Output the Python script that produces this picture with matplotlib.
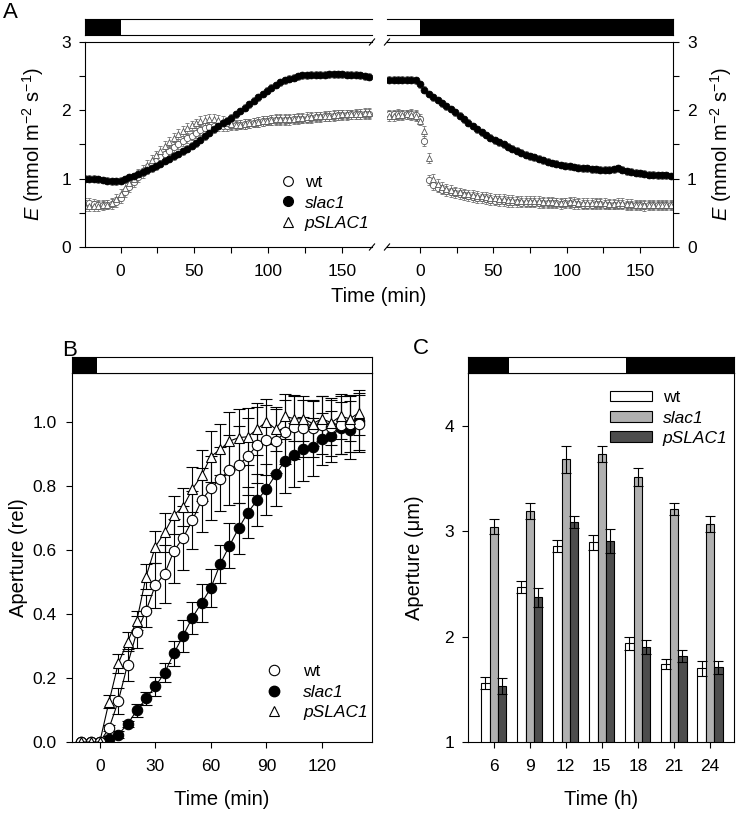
import numpy as np
import matplotlib as mlp
mlp.use('Agg')
import matplotlib.pyplot as plt
from matplotlib.lines import Line2D
from matplotlib.patches import Patch

plt.rcParams['font.family'] = ['Liberation Sans', 'DejaVu Sans']
plt.rcParams['mathtext.fontset'] = 'custom'
plt.rcParams['mathtext.rm'] = 'Liberation Sans'
plt.rcParams['mathtext.it'] = 'Liberation Sans:italic'
plt.rcParams['font.size'] = 12.5
plt.rcParams['axes.labelsize'] = 14.5
plt.rcParams['axes.linewidth'] = 0.8

# ---- panel A: transpiration, light on (left) / light off (right)
tA_on = np.arange(-24, 169, 3)
tA_off = np.arange(-21, 172, 3)

wt_on = [0.65, 0.64, 0.63, 0.62, 0.62, 0.62, 0.63, 0.66, 0.72, 0.80,
         0.88, 0.95, 1.02, 1.08, 1.14, 1.20, 1.26, 1.31, 1.36, 1.41,
         1.46, 1.51, 1.55, 1.59, 1.63, 1.67, 1.71, 1.74, 1.76, 1.77,
         1.77, 1.77, 1.77, 1.78, 1.78, 1.79, 1.80, 1.81, 1.82, 1.83,
         1.84, 1.85, 1.86, 1.86, 1.86, 1.86, 1.86, 1.87, 1.87, 1.88,
         1.88, 1.89, 1.90, 1.90, 1.91, 1.92, 1.92, 1.93, 1.93, 1.93,
         1.94, 1.94, 1.95, 1.95, 1.95]
slac1_on = [1.00, 1.00, 1.00, 0.99, 0.98, 0.97, 0.96, 0.96, 0.97, 0.99,
            1.02, 1.04, 1.07, 1.10, 1.13, 1.15, 1.18, 1.22, 1.26, 1.29,
            1.33, 1.36, 1.40, 1.44, 1.48, 1.52, 1.57, 1.62, 1.67, 1.72,
            1.77, 1.81, 1.85, 1.89, 1.94, 1.99, 2.04, 2.09, 2.14, 2.19,
            2.24, 2.29, 2.33, 2.37, 2.41, 2.44, 2.46, 2.48, 2.50, 2.51,
            2.51, 2.52, 2.52, 2.52, 2.52, 2.53, 2.53, 2.53, 2.53, 2.52,
            2.52, 2.52, 2.51, 2.50, 2.49]
pslac1_on = [0.60, 0.60, 0.60, 0.60, 0.61, 0.62, 0.65, 0.70, 0.78, 0.86,
             0.93, 1.00, 1.07, 1.13, 1.20, 1.27, 1.34, 1.41, 1.48, 1.54,
             1.60, 1.65, 1.70, 1.74, 1.78, 1.81, 1.84, 1.86, 1.87, 1.87,
             1.86, 1.84, 1.82, 1.80, 1.79, 1.79, 1.80, 1.81, 1.82, 1.83,
             1.84, 1.85, 1.86, 1.87, 1.87, 1.87, 1.88, 1.88, 1.89, 1.89,
             1.90, 1.90, 1.91, 1.91, 1.92, 1.92, 1.93, 1.93, 1.94, 1.94,
             1.94, 1.95, 1.95, 1.96, 1.96]

wt_off = [1.94, 1.94, 1.95, 1.94, 1.94, 1.95, 1.93, 1.88, 1.55, 0.98,
          0.90, 0.87, 0.84, 0.82, 0.80, 0.79, 0.77, 0.76, 0.74, 0.73,
          0.72, 0.71, 0.70, 0.69, 0.68, 0.67, 0.67, 0.66, 0.66, 0.66,
          0.65, 0.65, 0.65, 0.65, 0.64, 0.64, 0.64, 0.64, 0.64, 0.63,
          0.64, 0.64, 0.63, 0.63, 0.62, 0.62, 0.62, 0.63, 0.63, 0.62,
          0.62, 0.62, 0.62, 0.62, 0.61, 0.61, 0.61, 0.61, 0.60, 0.61,
          0.61, 0.61, 0.61, 0.61, 0.61]
slac1_off = [2.45, 2.45, 2.45, 2.45, 2.45, 2.45, 2.44, 2.38, 2.30, 2.24,
             2.19, 2.15, 2.10, 2.06, 2.02, 1.97, 1.92, 1.87, 1.82, 1.77,
             1.72, 1.68, 1.64, 1.60, 1.56, 1.53, 1.50, 1.47, 1.44, 1.41,
             1.38, 1.35, 1.33, 1.31, 1.29, 1.27, 1.25, 1.23, 1.22, 1.20,
             1.19, 1.18, 1.17, 1.16, 1.15, 1.15, 1.14, 1.14, 1.13, 1.13,
             1.13, 1.14, 1.15, 1.13, 1.11, 1.10, 1.09, 1.08, 1.07, 1.06,
             1.06, 1.05, 1.05, 1.05, 1.04]
pslac1_off = [1.92, 1.92, 1.93, 1.93, 1.94, 1.93, 1.92, 1.85, 1.70, 1.30,
              1.00, 0.92, 0.88, 0.85, 0.83, 0.81, 0.80, 0.78, 0.77, 0.76,
              0.75, 0.74, 0.73, 0.72, 0.71, 0.70, 0.70, 0.69, 0.69, 0.68,
              0.68, 0.68, 0.67, 0.67, 0.67, 0.66, 0.66, 0.66, 0.65, 0.65,
              0.65, 0.66, 0.66, 0.65, 0.64, 0.64, 0.64, 0.64, 0.64, 0.64,
              0.63, 0.63, 0.64, 0.64, 0.63, 0.63, 0.62, 0.62, 0.62, 0.62,
              0.62, 0.62, 0.62, 0.62, 0.62]
errA_wt = 0.07
errA_slac1 = 0.05
errA_pslac1 = 0.07

# ---- panel B: relative aperture
tB = np.arange(-10, 141, 5)
wt_B = [0, 0, 0, 0.043, 0.128, 0.242, 0.344, 0.41, 0.49, 0.525,
        0.597, 0.638, 0.693, 0.755, 0.793, 0.822, 0.85, 0.866, 0.893, 0.928,
        0.944, 0.94, 0.968, 0.985, 0.98, 0.98, 0.99, 0.985, 0.99, 0.995, 0.995]
slac1_B = [0, 0, 0, 0.01, 0.023, 0.056, 0.099, 0.136, 0.174, 0.216,
           0.277, 0.332, 0.389, 0.435, 0.481, 0.556, 0.613, 0.668, 0.717, 0.756,
           0.79, 0.836, 0.879, 0.896, 0.917, 0.922, 0.947, 0.955, 0.981, 0.975, 1.002]
pslac1_B = [0, 0, 0, 0.126, 0.246, 0.313, 0.379, 0.517, 0.61, 0.655,
            0.709, 0.735, 0.79, 0.833, 0.892, 0.914, 0.94, 0.951, 0.954, 0.978,
            1.001, 0.978, 1.018, 1.01, 1.01, 0.995, 1.01, 0.998, 1.018, 1.01, 1.029]
wt_Berr = [0, 0, 0, 0.01, 0.04, 0.05, 0.05, 0.05, 0.07, 0.09,
           0.10, 0.10, 0.09, 0.10, 0.10, 0.10, 0.11, 0.12, 0.12, 0.12,
           0.11, 0.10, 0.10, 0.10, 0.09, 0.09, 0.09, 0.09, 0.09, 0.09, 0.09]
slac1_Berr = [0, 0, 0, 0.01, 0.01, 0.01, 0.02, 0.02, 0.03, 0.03,
              0.04, 0.05, 0.05, 0.06, 0.06, 0.06, 0.07, 0.08, 0.08, 0.08,
              0.08, 0.10, 0.10, 0.10, 0.10, 0.09, 0.08, 0.08, 0.08, 0.09, 0.09]
pslac1_Berr = [0, 0, 0, 0.02, 0.03, 0.03, 0.03, 0.04, 0.05, 0.06,
               0.06, 0.06, 0.07, 0.08, 0.08, 0.08, 0.09, 0.09, 0.09, 0.08,
               0.07, 0.07, 0.07, 0.07, 0.07, 0.07, 0.07, 0.07, 0.07, 0.07, 0.07]

# ---- panel C: aperture over the day
hours = [6, 9, 12, 15, 18, 21, 24]
wt_C = [1.564, 2.473, 2.859, 2.894, 1.937, 1.739, 1.70]
slac1_C = [3.042, 3.193, 3.68, 3.73, 3.515, 3.212, 3.067]
pslac1_C = [1.533, 2.373, 3.086, 2.906, 1.90, 1.817, 1.71]
wt_Cerr = [0.057, 0.057, 0.06, 0.07, 0.063, 0.047, 0.073]
slac1_Cerr = [0.073, 0.077, 0.13, 0.076, 0.085, 0.058, 0.079]
pslac1_Cerr = [0.073, 0.088, 0.057, 0.117, 0.069, 0.057, 0.063]

W, H = 740, 813
fig = plt.figure(figsize=(W / 100, H / 100), dpi=100)


def box(x0, y0, x1, y1):
    # pixel box (top-left origin) -> figure fraction rect
    return [x0 / W, 1 - y1 / H, (x1 - x0) / W, (y1 - y0) / H]


def light_bar(rect, xlim, dark, spines=('top', 'bottom', 'left', 'right')):
    bx = fig.add_axes(rect)
    bx.set_xlim(xlim)
    bx.set_ylim(0, 1)
    for a, b in dark:
        bx.axvspan(a, b, color='black', lw=0)
    bx.set_xticks([])
    bx.set_yticks([])
    for s in ['top', 'bottom', 'left', 'right']:
        bx.spines[s].set_visible(s in spines)
    return bx


# ================= A =================
xlA_on = (-24, 170)
xlA_off = (-22.5, 172.5)
axL = fig.add_axes(box(85, 42, 372, 247))
axR = fig.add_axes(box(387, 42, 673, 247))

gray = '#707070'
for ax, t, w, s, p in [(axL, tA_on, wt_on, slac1_on, pslac1_on),
                       (axR, tA_off, wt_off, slac1_off, pslac1_off)]:
    ax.errorbar(t, w, yerr=errA_wt, fmt='o', ms=4.5, mfc='white', mec='#555555',
                mew=0.6, ecolor=gray, elinewidth=0.5, capsize=1.5, capthick=0.5)
    ax.errorbar(t, p, yerr=errA_pslac1, fmt='^', ms=4.5, mfc='white', mec='#555555',
                mew=0.6, ecolor=gray, elinewidth=0.5, capsize=1.5, capthick=0.5)
    ax.errorbar(t, s, yerr=errA_slac1, fmt='o', ms=5, mfc='black', mec='black',
                mew=0.5, ecolor=gray, elinewidth=0.5, capsize=1.5, capthick=0.5)
    ax.set_ylim(0, 3)
    ax.set_yticks([0, 1, 2, 3])
    ax.set_yticks([0.5, 1.5, 2.5], minor=True)
    ax.set_xticks([0, 50, 100, 150])
    ax.set_xticks([25, 75, 125], minor=True)
    ax.tick_params(which='both', direction='out', length=4, width=0.8)
    ax.tick_params(axis='x', pad=8)
    ax.tick_params(axis='y', pad=6)

axL.set_xlim(xlA_on)
axR.set_xlim(xlA_off)
axL.spines['right'].set_visible(False)
axR.spines['left'].set_visible(False)
axR.yaxis.tick_right()
axR.yaxis.set_label_position('right')
elabel = r'$\mathit{E}$ (mmol m$^{\mathrm{-2}}$ s$^{\mathrm{-1}}$)'
axL.set_ylabel(elabel)
axR.set_ylabel(elabel, rotation=90)
axL.yaxis.set_label_coords(-0.136, 0.5)
axR.yaxis.set_label_coords(1.122, 0.5)

# break marks
dx, dy = 0.009, 0.015
for yy in (0, 1):
    axL.plot([1 - dx, 1 + dx], [yy - dy, yy + dy], transform=axL.transAxes,
             color='black', lw=0.8, clip_on=False)
    dxr = dx * 287 / 286
    axR.plot([-dxr, dxr], [yy - dy, yy + dy], transform=axR.transAxes,
             color='black', lw=0.8, clip_on=False)

light_bar(box(85, 19, 372, 35), xlA_on, [(-24, 0)], spines=('top', 'bottom', 'left'))
light_bar(box(387, 19, 673, 35), xlA_off, [(0, 172.5)], spines=('top', 'bottom', 'right'))

hA = [Line2D([], [], ls='none', marker='o', ms=7, mfc='white', mec='black', mew=0.8),
      Line2D([], [], ls='none', marker='o', ms=7, mfc='black', mec='black'),
      Line2D([], [], ls='none', marker='^', ms=7, mfc='white', mec='black', mew=0.8)]
legA = axL.legend(hA, ['wt', 'slac1', 'pSLAC1'], loc='center',
                  bbox_to_anchor=(0.835, 0.215), frameon=False, handlelength=1.0,
                  handletextpad=0.45, labelspacing=0.3, borderpad=0)
legA.get_texts()[1].set_fontstyle('italic')
legA.get_texts()[2].set_fontstyle('italic')

fig.text(379 / W, 1 - 297 / H, 'Time (min)', ha='center', va='center', fontsize=14.5)
fig.text(3 / W, 1 - 13 / H, 'A', ha='left', va='center', fontsize=16)

# ================= B =================
xlB = (-15, 147)
axB = fig.add_axes(box(72, 373, 372, 742))
for y, e, mk, fc in [(slac1_B, slac1_Berr, 'o', 'black'),
                     (wt_B, wt_Berr, 'o', 'white'),
                     (pslac1_B, pslac1_Berr, '^', 'white')]:
    axB.errorbar(tB, y, yerr=e, fmt='-' + mk, color='black', lw=0.8, ms=7.5,
                 mfc=fc, mec='black', mew=0.8, ecolor='black', elinewidth=0.8,
                 capsize=4, capthick=0.8)
axB.set_xlim(xlB)
axB.set_ylim(0, 1.153)
axB.set_yticks([0, 0.2, 0.4, 0.6, 0.8, 1.0])
axB.set_yticklabels(['0.0', '0.2', '0.4', '0.6', '0.8', '1.0'])
axB.set_xticks([0, 30, 60, 90, 120])
axB.tick_params(direction='out', length=4, width=0.8)
axB.tick_params(axis='x', pad=8)
axB.tick_params(axis='y', pad=7)
axB.set_xlabel('Time (min)')
axB.set_ylabel('Aperture (rel)')
axB.xaxis.set_label_coords(0.5, -0.13)
axB.yaxis.set_label_coords(-0.147, 0.5)
light_bar(box(72, 357, 372, 373), xlB, [(-15, -1.5)])

hB = [Line2D([], [], ls='none', marker='o', ms=7.5, mfc='white', mec='black', mew=0.8),
      Line2D([], [], ls='none', marker='o', ms=7.5, mfc='black', mec='black'),
      Line2D([], [], ls='none', marker='^', ms=7.5, mfc='white', mec='black', mew=0.8)]
legB = axB.legend(hB, ['wt', 'slac1', 'pSLAC1'], loc='center',
                  bbox_to_anchor=(0.815, 0.135), frameon=False, handlelength=1.0,
                  handletextpad=1.2, labelspacing=0.3, borderpad=0)
legB.get_texts()[1].set_fontstyle('italic')
legB.get_texts()[2].set_fontstyle('italic')
fig.text(62 / W, 1 - 351 / H, 'B', ha='left', va='center', fontsize=16)

# ================= C =================
xlC = (3.86, 26.0)
axC = fig.add_axes(box(468, 373, 734, 742))
hx = np.array(hours, dtype=float)
bw = 0.7
ekw = dict(elinewidth=0.8, capthick=0.8, ecolor='black')
axC.bar(hx - bw, wt_C, bw, yerr=wt_Cerr, color='white', edgecolor='black',
        lw=0.8, capsize=3.5, error_kw=ekw, label='wt')
axC.bar(hx, slac1_C, bw, yerr=slac1_Cerr, color='#b0b0b0', edgecolor='black',
        lw=0.8, capsize=3.5, error_kw=ekw, label='slac1')
axC.bar(hx + bw, pslac1_C, bw, yerr=pslac1_Cerr, color='#4d4d4d', edgecolor='black',
        lw=0.8, capsize=3.5, error_kw=ekw, label='pSLAC1')
axC.set_xlim(xlC)
axC.set_ylim(1, 4.5)
axC.set_yticks([1, 2, 3, 4])
axC.set_xticks(hours)
axC.tick_params(direction='out', length=4, width=0.8)
axC.tick_params(axis='x', pad=8)
axC.tick_params(axis='y', pad=6)
axC.set_xlabel('Time (h)')
axC.set_ylabel('Aperture (\u03bcm)')
axC.xaxis.set_label_coords(0.5, -0.13)
axC.yaxis.set_label_coords(-0.165, 0.5)
light_bar(box(468, 357, 734, 373), xlC, [(3.86, 7.25), (17.0, 26.0)])

hC = [Patch(facecolor='white', edgecolor='black', lw=0.8),
      Patch(facecolor='#b0b0b0', edgecolor='black', lw=0.8),
      Patch(facecolor='#4d4d4d', edgecolor='black', lw=0.8)]
legC = axC.legend(hC, ['wt', 'slac1', 'pSLAC1'], loc='center',
                  bbox_to_anchor=(0.755, 0.878), frameon=False, handlelength=2.4,
                  handleheight=0.55, handletextpad=0.6, labelspacing=0.3, borderpad=0)
legC.get_texts()[1].set_fontstyle('italic')
legC.get_texts()[2].set_fontstyle('italic')
fig.text(413 / W, 1 - 348 / H, 'C', ha='left', va='center', fontsize=16)

fig.savefig('out.png', dpi=100)
